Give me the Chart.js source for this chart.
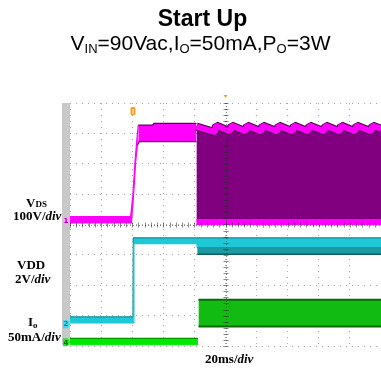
<!DOCTYPE html>
<html><head><meta charset="utf-8">
<script src="https://cdn.jsdelivr.net/npm/chart.js@4"></script>
<style>
html,body{margin:0;padding:0;background:#fff;}
#wrap{position:relative;width:381px;height:368px;overflow:hidden;}
#c{position:absolute;left:0;top:0;}
.t{position:absolute;white-space:nowrap;line-height:1;color:#000;}
.title{font:bold 23px "Liberation Sans",Arial,sans-serif;left:0;width:405px;text-align:center;top:5px;}
.sub{font:21px "Liberation Sans",Arial,sans-serif;left:0;width:401px;text-align:center;top:31px;}
.sub sub{font-size:13px;vertical-align:-3px;line-height:0;}
.lab{font:bold 13px "Liberation Serif","Times New Roman",serif;}
.lab i{font-style:italic;}
.sm{font-size:9px;}
.so{font-size:9px;vertical-align:-2px;line-height:0;}
</style></head>
<body>
<div id="wrap">
<canvas id="c" width="381" height="368"></canvas>
<div class="t title">Start Up</div>
<div class="t sub">V<sub>IN</sub>=90Vac,I<sub>O</sub>=50mA,P<sub>O</sub>=3W</div>
<div class="t lab" style="left:26px;top:195px">V<span class="sm">DS</span></div>
<div class="t lab" style="left:13px;top:208px">100V/<i>div</i></div>
<div class="t lab" style="left:17px;top:257px">VDD</div>
<div class="t lab" style="left:15px;top:271px">2V/<i>div</i></div>
<div class="t lab" style="left:28px;top:314px">I<span class="so">o</span></div>
<div class="t lab" style="left:8px;top:329px">50mA/<i>div</i></div>
<div class="t lab" style="left:205px;top:351px">20ms/<i>div</i></div>
</div>
<script>
// time in ms (20 ms/div), amplitude in screen divisions (centre = 0)
const timeRange = [0, 200];
const divRange = [-4, 4];
const vdsPreTop = [[0,0.26],[39.0,0.26],[40.5,1.0],[41.8,2.05],[42.9,2.75],[43.9,3.27],[53,3.27],[54,3.33],[81.3,3.33]];
const vdsPreBottom = [[0,0.05],[39.5,0.05],[40.9,1.0],[42.2,2.05],[43.3,2.6],[44.5,2.73],[81.3,2.73]];
const vdsSawTop = [[81.3,3.22],[93.2,3.04],[93.9,3.26],[103.1,3.06],[103.8,3.26],[113.1,3.06],[113.8,3.26],[123.1,3.06],[123.8,3.26],[133.4,3.06],[134.1,3.26],[143.3,3.06],[144.0,3.26],[153.3,3.06],[154.0,3.26],[163.6,3.06],[164.3,3.26],[173.6,3.06],[174.3,3.26],[183.5,3.06],[184.2,3.26],[193.8,3.06],[194.5,3.26],[200,3.15]];
const vdsSwitchBottom = [[81.3,0.08],[200,0.08]];
const vddTop = [[0,-3.04],[40.5,-3.04],[40.7,-0.44],[200,-0.44]];
const vddBottom = [[0,-3.24],[40.9,-3.24],[41.1,-0.63],[81.6,-0.63],[81.8,-0.76],[200,-0.76]];
const vddRippleTop = [[81.8,-0.76],[200,-0.76]];
const vddRippleBottom = [[81.8,-0.98],[200,-0.98]];
const ioLowTop = [[0,-3.75],[82.3,-3.75]];
const ioLowBottom = [[0,-3.96],[82.3,-3.96]];
const ioHighTop = [[82.6,-2.48],[200,-2.48]];
const ioHighBottom = [[82.6,-3.36],[200,-3.36]];
const markers = {ch1: 0.12, ch2: -3.28, ch4: -3.88, trigger: 40.5};

const pts = a => a.map(p => ({x: p[0], y: p[1]}));
const specs = [
  {data: vdsPreTop, fill: '+1', bg: '#ff00ff', bc: '#ff00ff', bw: 1.2,
   seg: c => (c.p0.parsed.x > 43 ? '#5a005a' : '#ff00ff')},
  {data: vdsPreBottom, fill: false, bc: '#ff00ff', bw: 1.2,
   seg: c => (c.p0.parsed.x > 43 ? '#6a006a' : '#ff00ff')},
  {data: vdsSawTop, fill: '+2', bg: '#800080', bc: '#4a004a', bw: 8},
  {data: vdsSawTop, fill: false, bc: '#ff00ff', bw: 6},
  {data: vdsSwitchBottom, fill: false, bc: '#ff00ff', bw: 6},
  {data: vddTop, fill: '+1', bg: '#1ec8d6', bc: '#178e96', bw: 1.2},
  {data: vddBottom, fill: false, bc: '#1ec8d6', bw: 1.2},
  {data: vddRippleTop, fill: '+1', bg: '#1b9aa2', bc: '#1b9aa2', bw: 1},
  {data: vddRippleBottom, fill: false, bc: '#0f5f62', bw: 1.5},
  {data: ioLowTop, fill: '+1', bg: '#00ea00', bc: '#009a00', bw: 1.2},
  {data: ioLowBottom, fill: false, bc: '#00ea00', bw: 1},
  {data: ioHighTop, fill: '+1', bg: '#12bb12', bc: '#0a6a0a', bw: 2},
  {data: ioHighBottom, fill: false, bc: '#0a6a0a', bw: 2}
];
const datasets = specs.map((s, i) => ({
  data: pts(s.data), fill: s.fill, backgroundColor: s.bg || 'transparent',
  borderColor: s.bc, borderWidth: s.bw, pointRadius: 0, tension: 0,
  borderCapStyle: 'butt', borderJoinStyle: 'bevel', order: specs.length - i,
  segment: s.seg ? {borderColor: s.seg} : undefined
}));

const scopeDecor = {
  id: 'scopeDecor',
  beforeDraw(chart) {
    const {ctx, chartArea: a} = chart;
    ctx.save();
    ctx.fillStyle = '#c8c8c8';
    ctx.fillRect(a.left - 8, a.top, 8, a.bottom - a.top - 1);
    ctx.restore();
  },
  afterDatasetsDraw(chart) {
    const {ctx, chartArea: a, scales: {x, y}} = chart;
    ctx.save();
    // centre graticule lines with minor ticks
    const cx = x.getPixelForValue((timeRange[0] + timeRange[1]) / 2);
    const cy = y.getPixelForValue(0);
    ctx.strokeStyle = 'rgba(40,40,40,0.55)';
    ctx.lineWidth = 1;
    ctx.setLineDash([1, 2]);
    ctx.beginPath();
    ctx.moveTo(Math.round(cx) + 0.5, a.top); ctx.lineTo(Math.round(cx) + 0.5, a.bottom);
    ctx.moveTo(a.left, Math.round(cy) + 0.5); ctx.lineTo(a.right, Math.round(cy) + 0.5);
    ctx.stroke();
    ctx.setLineDash([]);
    ctx.beginPath();
    for (let v = divRange[0]; v <= divRange[1] + 1e-6; v += 0.2) {
      const py = Math.round(y.getPixelForValue(v)) + 0.5;
      ctx.moveTo(cx - 2, py); ctx.lineTo(cx + 3, py);
    }
    for (let t = timeRange[0]; t <= timeRange[1] + 1e-6; t += 4) {
      const px = Math.round(x.getPixelForValue(t)) + 0.5;
      ctx.moveTo(px, cy - 2); ctx.lineTo(px, cy + 3);
    }
    ctx.stroke();
    // channel markers in the left bar
    const mk = (v, fill, txt, col) => {
      const py = y.getPixelForValue(v);
      ctx.fillStyle = fill;
      ctx.beginPath();
      ctx.moveTo(a.left - 7, py - 4); ctx.lineTo(a.left - 2, py - 4);
      ctx.lineTo(a.left, py); ctx.lineTo(a.left - 2, py + 4); ctx.lineTo(a.left - 7, py + 4);
      ctx.closePath(); ctx.fill();
      ctx.fillStyle = col; ctx.font = 'bold 7px "DejaVu Sans"';
      ctx.textAlign = 'center'; ctx.textBaseline = 'middle';
      ctx.fillText(txt, a.left - 4, py + 0.5);
    };
    mk(markers.ch1, '#f2a8f2', '1', '#b000b0');
    mk(markers.ch2, '#40d8f0', '2', '#0a8aa0');
    mk(markers.ch4, '#30e030', '4', '#0a7a0a');
    // trigger marker
    const tx = x.getPixelForValue(markers.trigger);
    ctx.fillStyle = '#f0a020';
    ctx.beginPath();
    ctx.roundRect(tx - 2.5, a.top + 4, 5, 8, 1.5);
    ctx.fill();
    ctx.fillStyle = '#fff7e0';
    ctx.fillRect(tx - 0.5, a.top + 6, 1, 5);
    ctx.fillStyle = '#f0a020';
    ctx.beginPath();
    ctx.moveTo(cx - 2, a.top - 8); ctx.lineTo(cx + 2, a.top - 8); ctx.lineTo(cx, a.top - 5);
    ctx.closePath(); ctx.fill();
    ctx.restore();
  }
};

new Chart(document.getElementById('c'), {
  type: 'line',
  data: {datasets},
  options: {
    responsive: false, animation: false, events: [],
    layout: {padding: {left: 70, top: 103, right: 0, bottom: 22}},
    plugins: {legend: {display: false}, tooltip: {enabled: false}, title: {display: false}},
    scales: {
      x: {type: 'linear', min: timeRange[0], max: timeRange[1],
          ticks: {display: false, stepSize: 20},
          grid: {color: '#a8a8a8', lineWidth: 1, drawTicks: false},
          border: {display: false, dash: [1, 5]}},
      y: {type: 'linear', min: divRange[0], max: divRange[1],
          ticks: {display: false, stepSize: 1},
          grid: {color: '#a8a8a8', lineWidth: 1, drawTicks: false},
          border: {display: false, dash: [1, 5]}}
    }
  },
  plugins: [scopeDecor]
});
</script>
</body></html>
